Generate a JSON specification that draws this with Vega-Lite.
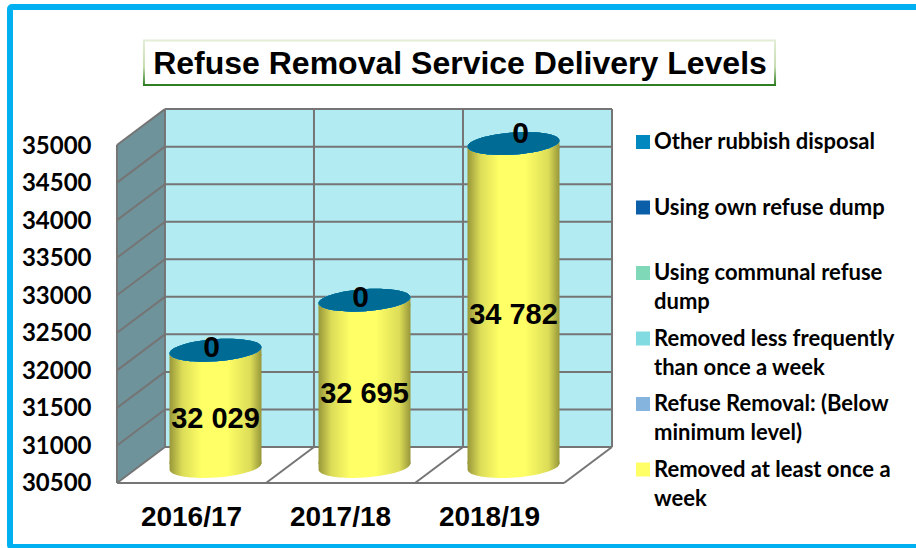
{
"$schema":"https://vega.github.io/schema/vega-lite/v6.json",
"width":916,"height":548,"padding":0,"autosize":{"type":"none"},"background":"white",
"view":{"stroke":null},
"config":{"style":{"guide-label":{"lineHeight":29}}},
"title":{"text":"Refuse Removal Service Delivery Levels","font":"Liberation Sans","fontWeight":"bold","fontSize":32,"color":"#000000","anchor":"middle","frame":"group","orient":"top","offset":0,"dy":106,"dx":2,"baseline":"alphabetic"},
"datasets":{
"levels":[
{"year":"2016/17","series":"Removed at least once a week","value":32029},
{"year":"2016/17","series":"Refuse Removal: (Below minimum level)","value":0},
{"year":"2016/17","series":"Removed less frequently than once a week","value":0},
{"year":"2016/17","series":"Using communal refuse dump","value":0},
{"year":"2016/17","series":"Using own refuse dump","value":0},
{"year":"2016/17","series":"Other rubbish disposal","value":0},
{"year":"2017/18","series":"Removed at least once a week","value":32695},
{"year":"2017/18","series":"Refuse Removal: (Below minimum level)","value":0},
{"year":"2017/18","series":"Removed less frequently than once a week","value":0},
{"year":"2017/18","series":"Using communal refuse dump","value":0},
{"year":"2017/18","series":"Using own refuse dump","value":0},
{"year":"2017/18","series":"Other rubbish disposal","value":0},
{"year":"2018/19","series":"Removed at least once a week","value":34782},
{"year":"2018/19","series":"Refuse Removal: (Below minimum level)","value":0},
{"year":"2018/19","series":"Removed less frequently than once a week","value":0},
{"year":"2018/19","series":"Using communal refuse dump","value":0},
{"year":"2018/19","series":"Using own refuse dump","value":0},
{"year":"2018/19","series":"Other rubbish disposal","value":0}
],
"frame":[{"a":-0.718,"a2":5.4,"b":36839,"b2":29646}],
"titlebox":[{"a":0.181,"a2":4.416,"b":36392,"b2":35800}],
"sidewall":[{"a":0,"b":30500,"b2":35000},{"a":0.322,"b":30979,"b2":35479}],
"backwall":[{"a":0.322,"a2":3.322,"b":30979,"b2":35479}],
"floor":[{"a":0,"b":30500,"b2":30500},{"a":0.322,"b":30500,"b2":30979},{"a":3,"b":30500,"b2":30979},{"a":3.322,"b":30979,"b2":30979}],
"wire":[
{"a":0,"a2":3,"b":30500,"b2":30500},
{"a":0,"a2":0,"b":30500,"b2":35000},
{"a":0.322,"a2":0.322,"b":30979,"b2":35479},
{"a":1.322,"a2":1.322,"b":30979,"b2":35479},
{"a":2.322,"a2":2.322,"b":30979,"b2":35479},
{"a":3.322,"a2":3.322,"b":30979,"b2":35479},
{"a":0,"a2":0.322,"b":30500,"b2":30979},
{"a":1,"a2":1.322,"b":30500,"b2":30979},
{"a":2,"a2":2.322,"b":30500,"b2":30979},
{"a":3,"a2":3.322,"b":30500,"b2":30979},
{"a":0,"a2":0.322,"b":31000,"b2":31479},
{"a":0,"a2":0.322,"b":31500,"b2":31979},
{"a":0,"a2":0.322,"b":32000,"b2":32479},
{"a":0,"a2":0.322,"b":32500,"b2":32979},
{"a":0,"a2":0.322,"b":33000,"b2":33479},
{"a":0,"a2":0.322,"b":33500,"b2":33979},
{"a":0,"a2":0.322,"b":34000,"b2":34479},
{"a":0,"a2":0.322,"b":34500,"b2":34979},
{"a":0,"a2":0.322,"b":35000,"b2":35479},
{"a":0.322,"a2":3.322,"b":30979,"b2":30979},
{"a":0.322,"a2":3.322,"b":31479,"b2":31479},
{"a":0.322,"a2":3.322,"b":31979,"b2":31979},
{"a":0.322,"a2":3.322,"b":32479,"b2":32479},
{"a":0.322,"a2":3.322,"b":32979,"b2":32979},
{"a":0.322,"a2":3.322,"b":33479,"b2":33479},
{"a":0.322,"a2":3.322,"b":33979,"b2":33979},
{"a":0.322,"a2":3.322,"b":34479,"b2":34479},
{"a":0.322,"a2":3.322,"b":34979,"b2":34979},
{"a":0.322,"a2":3.322,"b":35479,"b2":35479}
]
},
"resolve":{"scale":{"x":"independent"}},
"layer":[
{"resolve":{"scale":{"x":"shared"}},
 "layer":[
{"data":{"name":"frame"},"mark":{"type":"rect","fill":null,"stroke":"#00b0f0","strokeWidth":6,"cornerRadius":2},
 "encoding":{"x":{"field":"a","type":"quantitative","axis":null,"scale":{"domain":[-0.785,5.362],"nice":false,"zero":false}},"x2":{"field":"a2"},
 "y":{"field":"b","type":"quantitative","scale":{"domain":[29634,36932],"nice":false,"zero":false},"title":null,
   "axis":{"orient":"left","offset":-117,"values":[30500,31000,31500,32000,32500,33000,33500,34000,34500,35000],"format":"d","grid":false,"domain":false,"ticks":false,"labelPadding":26,"labelOffset":1,"labelFont":"Lato","labelFontWeight":"bold","labelFontSize":24,"labelColor":"#000000"}},
 "y2":{"field":"b2"}}},
{"data":{"name":"titlebox"},"mark":{"type":"rect","fill":null,"strokeWidth":2,"stroke":{"gradient":"linear","x1":0,"y1":0,"x2":0,"y2":1,"stops":[{"offset":0,"color":"#e3edd6"},{"offset":0.6,"color":"#c5dcb0"},{"offset":1,"color":"#2e7d22"}]}},
 "encoding":{"x":{"field":"a","type":"quantitative","axis":null},"x2":{"field":"a2"},"y":{"field":"b","type":"quantitative"},"y2":{"field":"b2"}}},
{"data":{"name":"sidewall"},"mark":{"type":"area","fill":"#6f939b","line":false},
 "encoding":{"x":{"field":"a","type":"quantitative","axis":null},"y":{"field":"b","type":"quantitative"},"y2":{"field":"b2"}}},
{"data":{"name":"backwall"},"mark":{"type":"rect","fill":"#b2ebf2"},
 "encoding":{"x":{"field":"a","type":"quantitative","axis":null},"x2":{"field":"a2"},"y":{"field":"b","type":"quantitative"},"y2":{"field":"b2"}}},
{"data":{"name":"floor"},"mark":{"type":"area","fill":"#ffffff"},
 "encoding":{"x":{"field":"a","type":"quantitative","axis":null},"y":{"field":"b","type":"quantitative"},"y2":{"field":"b2"}}},
{"data":{"name":"wire"},"mark":{"type":"rule","color":"#757575","strokeWidth":2},
 "encoding":{"x":{"field":"a","type":"quantitative","axis":null},"x2":{"field":"a2"},"y":{"field":"b","type":"quantitative"},"y2":{"field":"b2"}}}
]},
{"resolve":{"scale":{"x":"shared"}},
 "layer":[
 {"data":{"name":"levels"},"transform":[{"filter":"datum.series=='Removed at least once a week'"}],
  "mark":{"type":"point","filled":true,"opacity":1,"size":8464,"xOffset":24,"yOffset":-16.5,"shape":"M-1,-0.1 L1,-0.1 L0.998,-0.07 A1,0.24,-4,0,1,-0.998,0.07 Z","fill":{"gradient":"linear","x1":0,"y1":0,"x2":1,"y2":0,"stops":[{"offset":0,"color":"#97973a"},{"offset":0.14,"color":"#dcdc58"},{"offset":0.35,"color":"#ffff66"},{"offset":0.62,"color":"#ffff66"},{"offset":0.88,"color":"#dcdc58"},{"offset":1,"color":"#97973a"}]}},
  "encoding":{"x":{"field":"year","type":"nominal","title":null,"scale":{"range":[117,564],"paddingInner":0,"paddingOuter":0},
     "axis":{"orient":"bottom","offset":-65,"labelAngle":0,"domain":false,"ticks":false,"grid":false,"labelPadding":20,"labelFont":"Liberation Sans","labelFontWeight":"bold","labelFontSize":28,"labelColor":"#000000"}},"y":{"datum":30500,"type":"quantitative"}}},
 {"data":{"name":"levels"},"transform":[{"filter":"datum.series=='Removed at least once a week'"}],
  "mark":{"type":"bar","width":92,"xOffset":24,"yOffset":-14,"y2Offset":-19,"fill":{"gradient":"linear","x1":0,"y1":0,"x2":1,"y2":0,"stops":[{"offset":0,"color":"#97973a"},{"offset":0.14,"color":"#dcdc58"},{"offset":0.35,"color":"#ffff66"},{"offset":0.62,"color":"#ffff66"},{"offset":0.88,"color":"#dcdc58"},{"offset":1,"color":"#97973a"}]}},
  "encoding":{"x":{"field":"year","type":"nominal"},
   "y":{"field":"value","type":"quantitative","stack":null},"y2":{"datum":30500}}},
 {"data":{"name":"levels"},"transform":[{"filter":"datum.series=='Removed at least once a week'"}],
  "mark":{"type":"point","filled":true,"opacity":1,"size":8464,"xOffset":24,"yOffset":-18,"shape":"M-0.998,0.07 L0.998,-0.07 L1,0.12 L-1,0.12 Z","fill":{"gradient":"linear","x1":0,"y1":0,"x2":1,"y2":0,"stops":[{"offset":0,"color":"#97973a"},{"offset":0.14,"color":"#dcdc58"},{"offset":0.35,"color":"#ffff66"},{"offset":0.62,"color":"#ffff66"},{"offset":0.88,"color":"#dcdc58"},{"offset":1,"color":"#97973a"}]}},
  "encoding":{"x":{"field":"year","type":"nominal"},"y":{"field":"value","type":"quantitative"}}},
 {"data":{"name":"levels"},"transform":[{"joinaggregate":[{"op":"sum","field":"value","as":"total"}],"groupby":["year"]}],
  "mark":{"type":"point","filled":true,"opacity":1,"size":8464,"xOffset":24,"yOffset":-18,"shape":"M-0.998,0.07 A1,0.24,-4,1,1,0.998,-0.07 A1,0.24,-4,1,1,-0.998,0.07 Z"},
  "encoding":{"x":{"field":"year","type":"nominal"},"y":{"field":"total","type":"quantitative"},
   "color":{"field":"series","type":"nominal","scale":{"domain":["Other rubbish disposal","Using own refuse dump","Using communal refuse dump","Removed less frequently than once a week","Refuse Removal: (Below minimum level)","Removed at least once a week"],"range":["#0088bf","#0a5fa8","#7fd9b8","#82dbe0","#85b5de","#ffff66"]},
    "legend":{"title":null,"orient":"none","legendX":632,"legendY":131,"symbolType":"square","symbolSize":196,"symbolStrokeWidth":0,"symbolOpacity":1,"rowPadding":14.5,"labelFont":"Lato","labelFontWeight":"bold","labelFontSize":22,"labelColor":"#000000","labelLimit":400,"labelOffset":0,
     "labelExpr":"datum.label=='Using communal refuse dump'?['Using communal refuse','dump']:datum.label=='Removed less frequently than once a week'?['Removed less frequently','than once a week']:datum.label=='Refuse Removal: (Below minimum level)'?['Refuse Removal: (Below','minimum level)']:datum.label=='Removed at least once a week'?['Removed at least once a','week']:[datum.label,' ']"}}}},
 {"data":{"name":"levels"},"transform":[{"joinaggregate":[{"op":"sum","field":"value","as":"total"}],"groupby":["year"]},{"filter":"datum.series=='Other rubbish disposal'"}],
  "mark":{"type":"point","filled":true,"opacity":1,"size":8464,"xOffset":24,"yOffset":-18,"fill":"#006c96","shape":"M-0.998,0.07 A1,0.24,-4,1,1,0.998,-0.07 A1,0.24,-4,1,1,-0.998,0.07 Z"},
  "encoding":{"x":{"field":"year","type":"nominal"},"y":{"field":"total","type":"quantitative"}}},
 {"data":{"name":"levels"},"transform":[{"filter":"datum.series=='Removed at least once a week'"},{"calculate":"(datum.value+30500)/2","as":"middle"},{"calculate":"replace(format(datum.value,','),',',' ')","as":"label"}],
  "mark":{"type":"text","font":"Liberation Sans","fontWeight":"bold","fontSize":29,"color":"#000000","xOffset":24,"yOffset":-7,"align":"center","baseline":"middle"},
  "encoding":{"x":{"field":"year","type":"nominal"},"y":{"field":"middle","type":"quantitative"},"text":{"field":"label"}}},
 {"data":{"name":"levels"},"transform":[{"joinaggregate":[{"op":"sum","field":"value","as":"total"}],"groupby":["year"]},{"filter":"datum.series=='Other rubbish disposal'"}],
  "mark":{"type":"text","font":"Liberation Sans","fontWeight":"bold","fontSize":30,"color":"#000000","xOffset":{"expr":"datum.year=='2018/19'?31:20"},"yOffset":{"expr":"datum.year=='2018/19'?-27:-20"},"align":"center","baseline":"middle"},
  "encoding":{"x":{"field":"year","type":"nominal"},"y":{"field":"total","type":"quantitative"},"text":{"field":"value"}}}
]}
]
}
